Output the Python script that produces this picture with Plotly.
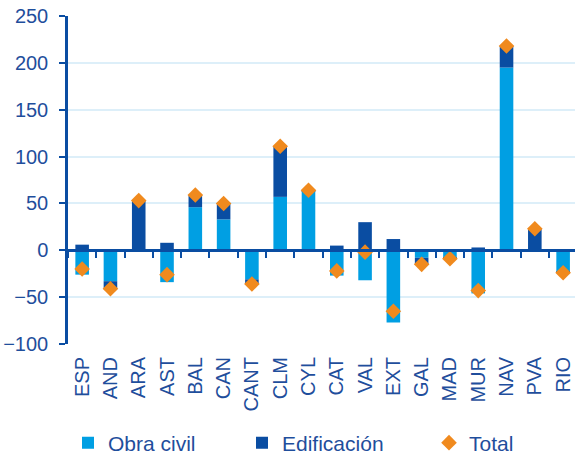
import plotly.graph_objects as go

categories = ["ESP", "AND", "ARA", "AST", "BAL", "CAN", "CANT", "CLM", "CYL",
              "CAT", "VAL", "EXT", "GAL", "MAD", "MUR", "NAV", "PVA", "RIO"]
obra_civil = [-26, -33, 0, -34, 46, 33, -31, 57, 63, -27, -32, -77, -8, -8, -46, 195, 0, -23]
edificacion = [6, -8, 53, 8, 13, 17, -5, 54, 1, 5, 30, 12, -7, -1, 3, 23, 23, -1]
total = [-20, -41, 53, -26, 59, 50, -36, 111, 64, -22, -2, -65, -15, -9, -43, 218, 23, -24]
y_ticks = [-100, -50, 0, 50, 100, 150, 200, 250]

TXT = "#1F4E9C"
DARK = "#0A4DA2"
LIGHT = "#009FE3"
ORANGE = "#F08A1E"
GRID = "#DDEFF9"
FONT = "Liberation Sans, Arial, sans-serif"

fig = go.Figure()
fig.add_bar(x=categories, y=obra_civil, name="Obra civil", marker_color=LIGHT,
            marker_line_width=0, legendwidth=129)
fig.add_bar(x=categories, y=edificacion, name="Edificación", marker_color=DARK,
            marker_line_width=0, legendwidth=142)
fig.add_scatter(x=categories, y=total, name="Total", mode="markers", xaxis="x2",
                marker=dict(symbol="diamond", size=12, color=ORANGE),
                legendwidth=60)

ymin, ymax = -100, 250
xr = [-0.5, 17.42]
fig.update_layout(
    width=575, height=456,
    margin=dict(l=68, r=0, t=16, b=112, autoexpand=False),
    paper_bgcolor="white", plot_bgcolor="white",
    barmode="relative", bargap=0.52,
    font=dict(family=FONT, size=20, color=TXT),
    showlegend=True,
    legend=dict(orientation="h", xref="container", yref="container",
                x=68 / 575, y=13 / 456, xanchor="left", yanchor="middle",
                font=dict(size=21, color=TXT), itemwidth=30,
                traceorder="normal"),
    xaxis=dict(type="category", categoryarray=categories, range=xr,
               tickangle=-90, showline=False, ticks="", showgrid=False,
               automargin=False, ticklabelstandoff=8,
               tickfont=dict(size=20, color=TXT)),
    xaxis2=dict(type="category", categoryarray=categories, range=xr,
                overlaying="x", anchor="free",
                position=(0 - ymin) / (ymax - ymin), automargin=False,
                showline=True, linecolor=DARK, linewidth=2.5,
                ticks="outside", tickson="boundaries", ticklen=6, tickwidth=2,
                tickcolor=DARK, showticklabels=False, showgrid=False),
    yaxis=dict(range=[ymin, ymax], tickvals=y_ticks, showgrid=True,
               gridcolor=GRID, gridwidth=1.5, zeroline=False, automargin=False,
               showline=True, linecolor=DARK, linewidth=2.5,
               ticks="outside", ticklen=6, tickwidth=2, tickcolor=DARK,
               ticklabelstandoff=7,
               tickfont=dict(size=20, color=TXT)),
)

fig.write_html("out.html", config={"displayModeBar": False},
               post_script="document.body.style.margin='0';")
